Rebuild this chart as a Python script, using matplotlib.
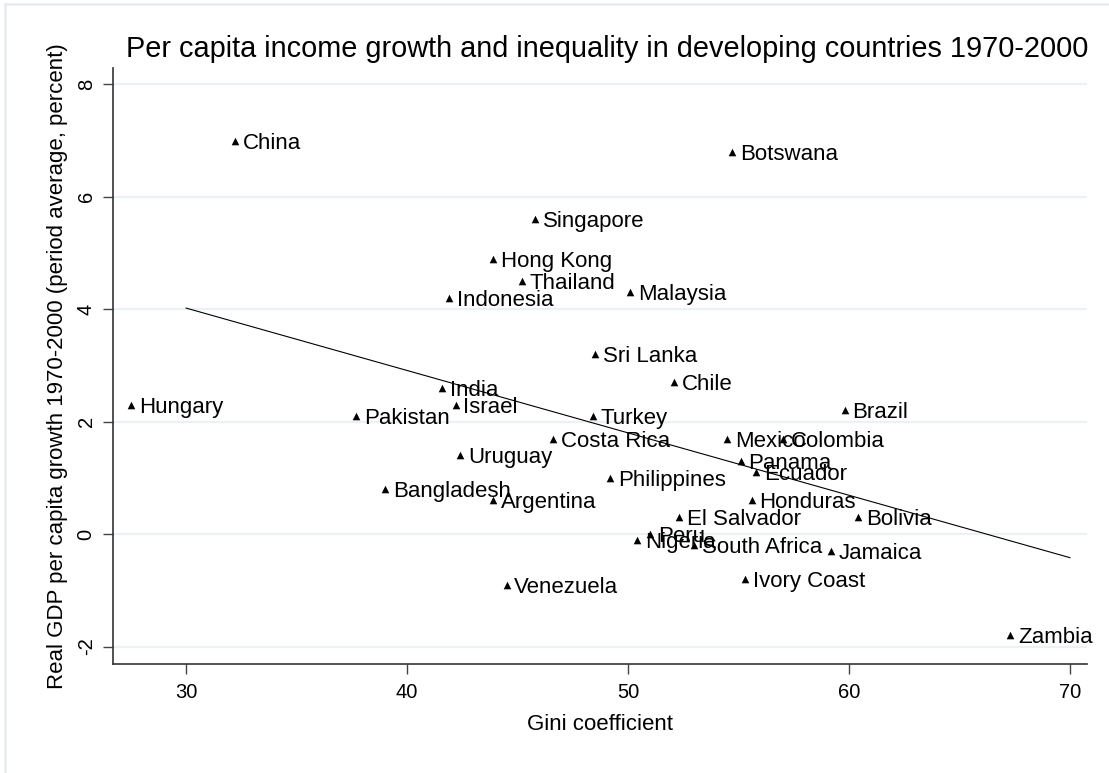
import numpy as np
import matplotlib
matplotlib.use("Agg")
import matplotlib.pyplot as plt
from matplotlib.lines import Line2D

plt.rcParams['font.family'] = ['Liberation Sans', 'DejaVu Sans']

countries = ["China", "Botswana", "Singapore", "Hong Kong", "Thailand", "Malaysia",
             "Indonesia", "Sri Lanka", "Chile", "India", "Hungary", "Israel", "Brazil",
             "Pakistan", "Turkey", "Costa Rica", "Mexico", "Colombia", "Uruguay",
             "Panama", "Ecuador", "Philippines", "Bangladesh", "Argentina", "Honduras",
             "El Salvador", "Bolivia", "Peru", "Nigeria", "South Africa", "Jamaica",
             "Ivory Coast", "Venezuela", "Zambia"]
gini = [32.2, 54.7, 45.8, 43.9, 45.2, 50.1,
        41.9, 48.5, 52.1, 41.6, 27.5, 42.2, 59.8,
        37.7, 48.4, 46.6, 54.5, 57.0, 42.4,
        55.1, 55.8, 49.2, 39.0, 43.9, 55.6,
        52.3, 60.4, 51.0, 50.4, 53.0, 59.2,
        55.3, 44.5, 67.3]
growth = [7.0, 6.8, 5.6, 4.9, 4.5, 4.3,
          4.2, 3.2, 2.7, 2.6, 2.3, 2.3, 2.2,
          2.1, 2.1, 1.7, 1.7, 1.7, 1.4,
          1.3, 1.1, 1.0, 0.8, 0.6, 0.6,
          0.3, 0.3, 0.0, -0.1, -0.2, -0.3,
          -0.8, -0.9, -1.8]
fit_range = [30, 70]
x_ticks = [30, 40, 50, 60, 70]
y_ticks = [-2, 0, 2, 4, 6, 8]

W, H = 1109, 773
fig = plt.figure(figsize=(W / 100, H / 100), dpi=100)
fig.patch.set_facecolor('white')

ax = fig.add_axes([113 / W, 1 - 664 / H, (1087 - 113) / W, (664 - 68) / H])
ax.set_xlim(26.69, 70.77)
ax.set_ylim(-2.31, 8.29)

for yt in y_ticks:
    ax.axhline(yt, color='#EAF2F3', lw=1.6, zorder=0)

ax.scatter(gini, growth, marker='^', s=30, color='black', linewidths=0, zorder=3)
for name, xv, yv in zip(countries, gini, growth):
    ax.annotate(name, (xv, yv), xytext=(5.6, 0), textcoords='offset points',
                ha='left', va='center_baseline', fontsize=16, color='black', zorder=4)

coef = np.polyfit(gini, growth, 1)
fx = np.array(fit_range, dtype=float)
ax.plot(fx, np.polyval(coef, fx), color='black', lw=0.8, zorder=2)

ax.set_xticks(x_ticks)
ax.set_yticks(y_ticks)
ax.set_yticklabels([str(v) for v in y_ticks], rotation=90, va='center')
ax.tick_params(axis='both', direction='out', length=7.5, width=1.0, color='#444444',
               labelsize=14.5, labelcolor='black')
ax.tick_params(axis='y', pad=5)
ax.tick_params(axis='x', pad=6)
for s in ['top', 'right']:
    ax.spines[s].set_visible(False)
for s in ['left', 'bottom']:
    ax.spines[s].set_color('#333333')
    ax.spines[s].set_linewidth(1.2)

ax.set_xlabel('Gini coefficient', fontsize=16, labelpad=9)
ax.set_ylabel('Real GDP per capita growth 1970-2000 (period average, percent)',
              fontsize=16, labelpad=6)

fig.text(607 / W, 1 - 49 / H,
         'Per capita income growth and inequality in developing countries 1970-2000',
         ha='center', va='center', fontsize=20.8, color='black')

fig.add_artist(Line2D([5 / W, 1], [1 - 4 / H, 1 - 4 / H], color='#E6EDF1', lw=1.8,
                      transform=fig.transFigure))
fig.add_artist(Line2D([5 / W, 5 / W], [0, 1 - 4 / H], color='#E6EDF1', lw=1.8,
                      transform=fig.transFigure))

fig.savefig('out.png', dpi=100, facecolor='white')
